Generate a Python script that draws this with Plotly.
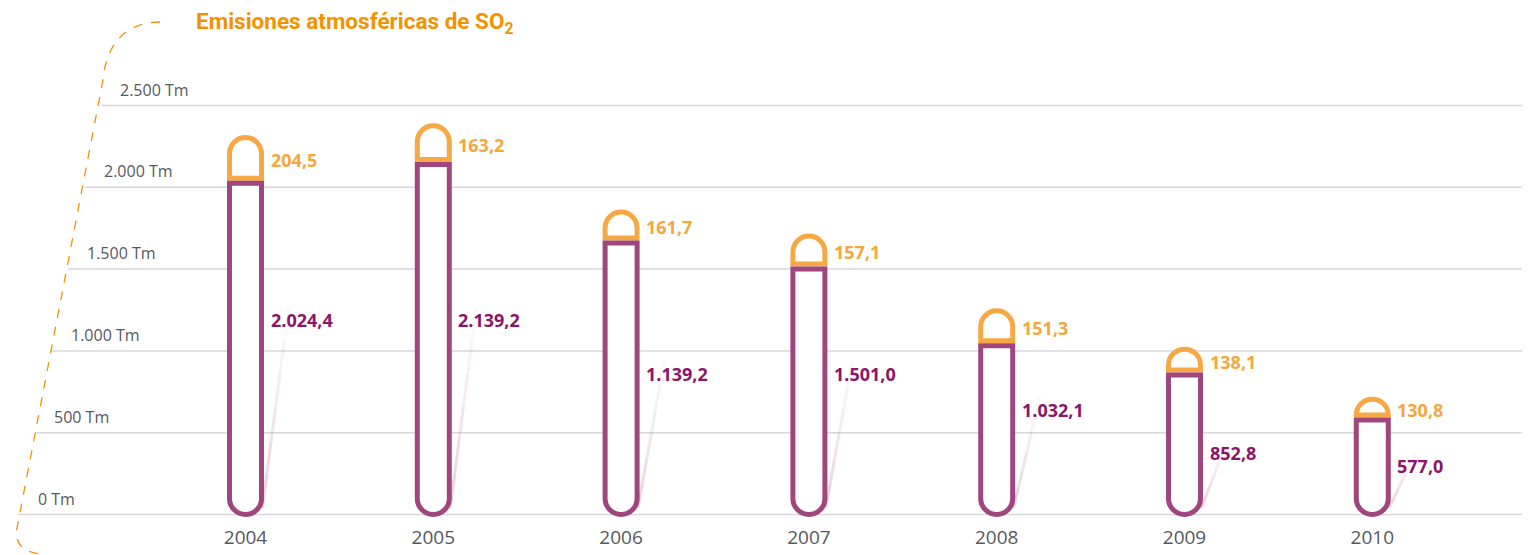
import plotly.graph_objects as go

# ---- data ----
years = ["2004", "2005", "2006", "2007", "2008", "2009", "2010"]
so2_labels = ["2.024,4", "2.139,2", "1.139,2", "1.501,0", "1.032,1", "852,8", "577,0"]
so2_bars = [2024.4, 2139.2, 1660.0, 1501.0, 1032.1, 852.8, 577.0]   # drawn heights (Tm)
cap_labels = ["204,5", "163,2", "161,7", "157,1", "151,3", "138,1", "130,8"]
cap_bars = [280, 237, 189, 201, 213, 158, 128]                        # drawn cap heights (Tm)
y_ticks = [0, 500, 1000, 1500, 2000, 2500]
y_tick_text = ["0 Tm", "500 Tm", "1.000 Tm", "1.500 Tm", "2.000 Tm", "2.500 Tm"]
so2_label_pos = [1189, 1189, 859, 859, 639, 376, 296]                 # label heights (Tm)

# ---- styling ----
W, H = 1530, 555
OFF = 8                      # page body margin offset
M_T, M_B = 12, 43
PURPLE = "#A0467F"
PURPLE_TXT = "#8C1568"
ORANGE = "#F5A843"
ORANGE_TXT = "#F5A63C"
TITLE_C = "#F39200"
GRID = "#D6D7DA"
GREY_TXT = "#55595F"

px_per_unit = (514.5 - 105.5) / 2500.0
plot_h = H - M_T - M_B
zero_px = 514.5 - OFF
ymin = -((H - M_B) - zero_px) / px_per_unit
ymax = ymin + plot_h / px_per_unit
cat_px = 187.8
x0_px = 245.5 - OFF
xa = -x0_px / cat_px
xb = xa + W / cat_px
gap = 5 / px_per_unit
bar_w = 32 / cat_px
K = 3000.0                   # offset of the helper axis used for the rounded bottoms

idx = list(range(len(years)))
clear = dict(color="rgba(0,0,0,0)", line=dict(width=0))

fig = go.Figure()

# orange caps on y: invisible spacer + rounded-top cap (outermost in stack)
fig.add_trace(go.Bar(x=years, y=[v + gap for v in so2_bars], width=bar_w, marker=clear,
                     hoverinfo="skip", showlegend=False))
fig.add_trace(go.Bar(x=years, y=[c - gap for c in cap_bars], width=bar_w,
                     marker=dict(color="white", line=dict(color=ORANGE, width=5), cornerradius=16),
                     hoverinfo="skip", showlegend=False))
# purple bodies on y2 (same scale, shifted by K): negative stack so the rounded end is the bottom
fig.add_trace(go.Bar(x=years, y=[v - K for v in so2_bars], width=bar_w, marker=clear,
                     yaxis="y2", hoverinfo="skip", showlegend=False))
fig.add_trace(go.Bar(x=years, y=[-v for v in so2_bars], width=bar_w, yaxis="y2",
                     marker=dict(color="white", line=dict(color=PURPLE, width=5), cornerradius=16),
                     hoverinfo="skip", showlegend=False))

shapes = []
annotations = []


def px_x(p):
    return (p - OFF) / W


def px_y(p):
    return (H - M_B - (p - OFF)) / plot_h


# slanted gridlines and tick labels
for k, v in enumerate(y_ticks):
    shapes.append(dict(type="line", xref="paper", yref="y", x0=px_x(18 + 16.8 * k), x1=1.02,
                       y0=v, y1=v, line=dict(color=GRID, width=1.5), layer="below"))
    annotations.append(dict(xref="paper", yref="y", x=px_x(35.5 + 16.5 * k), y=v,
                            xanchor="left", yanchor="middle", yshift=16, showarrow=False,
                            text=y_tick_text[k],
                            font=dict(family="Open Sans, sans-serif", size=16, color=GREY_TXT)))

# faint reflection streaks
for i, v in enumerate(so2_bars):
    top = so2_label_pos[i] + 80
    segs = 6
    for s in range(segs):
        f0, f1 = s / segs, (s + 1) / segs
        ya0 = 40 + (top - 40) * f0
        ya1 = 40 + (top - 40) * f1
        xa0 = i + 0.09 + 0.14 * f0
        xa1 = i + 0.09 + 0.14 * f1
        op = 0.22 * (1 - f0)
        shapes.append(dict(type="line", xref="x", yref="y", x0=xa0, x1=xa1, y0=ya0, y1=ya1,
                           line=dict(color=f"rgba(160,70,127,{op:.3f})", width=3), layer="below"))

# value labels
for i in idx:
    annotations.append(dict(xref="x", yref="y", x=i, y=so2_label_pos[i], xanchor="left",
                            yanchor="middle", xshift=23, showarrow=False, text=so2_labels[i],
                            font=dict(family="Open Sans, sans-serif", size=18, color=PURPLE_TXT,
                                      weight="bold")))
    annotations.append(dict(xref="x", yref="y", x=i, y=so2_bars[i] + cap_bars[i] / 2,
                            xanchor="left", yanchor="middle", xshift=23, showarrow=False,
                            text=cap_labels[i],
                            font=dict(family="Open Sans, sans-serif", size=18, color=ORANGE_TXT,
                                      weight="bold")))

# title
annotations.append(dict(xref="paper", yref="paper", x=px_x(194), y=px_y(23), xanchor="left",
                        yanchor="middle", showarrow=False,
                        text="Emisiones atmosféricas de SO<sub>2</sub>",
                        font=dict(family="Roboto, sans-serif", size=22.5, color=TITLE_C,
                                  weight="bold")))

# dashed decorative curve
pts = [(160, 22), (125, 22), (106, 45), (103, 80), (17, 528), (14, 545), (25, 553), (42, 554)]
P = [(px_x(a), px_y(b)) for a, b in pts]
path = (f"M {P[0][0]},{P[0][1]} C {P[1][0]},{P[1][1]} {P[2][0]},{P[2][1]} {P[3][0]},{P[3][1]} "
        f"L {P[4][0]},{P[4][1]} C {P[5][0]},{P[5][1]} {P[6][0]},{P[6][1]} {P[7][0]},{P[7][1]}")
shapes.append(dict(type="path", xref="paper", yref="paper", path=path,
                   line=dict(color=TITLE_C, width=1.3, dash="dash")))

fig.update_layout(
    width=W, height=H,
    margin=dict(l=0, r=0, t=M_T, b=M_B),
    paper_bgcolor="white", plot_bgcolor="white",
    barmode="relative",
    xaxis=dict(type="category", range=[xa, xb], showgrid=False, zeroline=False, showline=False,
               ticks="", tickfont=dict(family="Open Sans, sans-serif", size=19, color=GREY_TXT),
               ticklabelstandoff=4, fixedrange=True),
    yaxis=dict(range=[ymin, ymax], showgrid=False, zeroline=False, showticklabels=False,
               fixedrange=True),
    yaxis2=dict(range=[ymin - K, ymax - K], overlaying="y", showgrid=False, zeroline=False,
                showticklabels=False, visible=False, fixedrange=True),
    shapes=shapes,
    annotations=annotations,
    showlegend=False,
)

fig.write_html("out.html")
